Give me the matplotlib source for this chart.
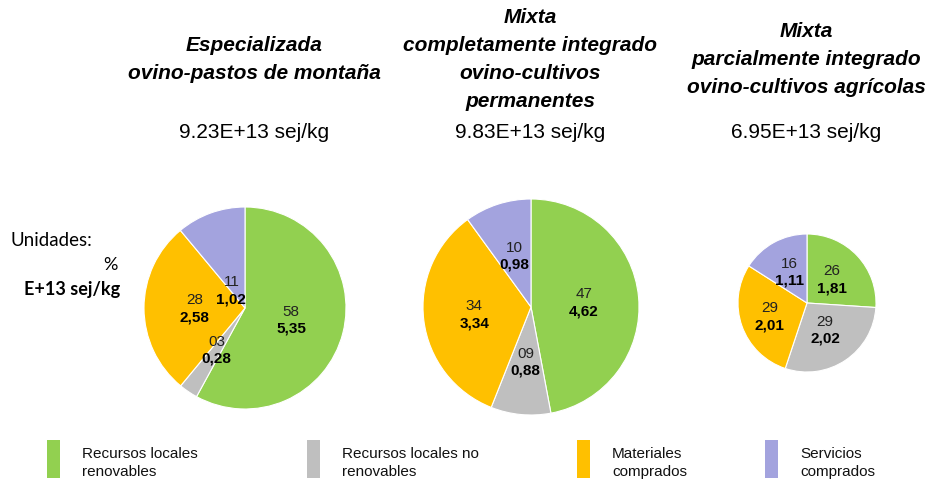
import matplotlib
matplotlib.use("Agg")
import matplotlib.pyplot as plt
import numpy as np
from matplotlib.patches import Rectangle

# ---------------- data ----------------
categories = ["Recursos locales\nrenovables", "Recursos locales no\nrenovables",
              "Materiales\ncomprados", "Servicios\ncomprados"]
titles = ["Especializada\novino-pastos de montaña",
          "Mixta\ncompletamente integrado\novino-cultivos\npermanentes",
          "Mixta\nparcialmente integrado\novino-cultivos agrícolas"]
totals = [9.23, 9.83, 6.95]
values_1 = [5.35, 0.28, 2.58, 1.02]
values_2 = [4.62, 0.88, 3.34, 0.98]
values_3 = [1.81, 2.02, 2.01, 1.11]
pcts_1 = ["58", "03", "28", "11"]
pcts_2 = ["47", "09", "34", "10"]
pcts_3 = ["26", "29", "29", "16"]

# ---------------- style ----------------
colors = ["#92D050", "#BFBFBF", "#FFC000", "#A3A3DE"]
W, H = 933, 486
fig = plt.figure(figsize=(W / 100, H / 100), dpi=100)
ax = fig.add_axes([0, 0, 1, 1])

centers = [(245, 308), (531, 307), (807, 303)]
radii = [101, 108, 69]
label_r = [[0.47, 0.5, 0.5, 0.22], [0.49, 0.51, 0.53, 0.5], [0.5, 0.47, 0.58, 0.52]]
label_da = [[0, 0, 0, 18], [0, 0, 0, 0], [0, 0, 0, 0]]
title_x = [254, 530, 806]
arial = "Liberation Sans"

for i, (vals, pcts) in enumerate(zip([values_1, values_2, values_3], [pcts_1, pcts_2, pcts_3])):
    cx, cy = centers[i]
    r = radii[i]
    wedges, _ = ax.pie(vals, colors=colors, startangle=90, counterclock=False,
                       center=(cx, H - cy), radius=r,
                       wedgeprops=dict(edgecolor="white", linewidth=0.8))
    for j, w in enumerate(wedges):
        ang = np.deg2rad((w.theta1 + w.theta2) / 2 + label_da[i][j])
        lx = cx + label_r[i][j] * r * np.cos(ang)
        ly = (H - cy) + label_r[i][j] * r * np.sin(ang)
        ax.text(lx, ly + 8, pcts[j], ha="center", va="center", fontsize=11,
                family=arial, color="#222222")
        ax.text(lx, ly - 9, f"{vals[j]:.2f}".replace(".", ","), ha="center", va="center",
                fontsize=11, family=arial, fontweight="bold", color="black")
    ax.text(title_x[i], H - 60, titles[i], ha="center", va="center", fontsize=15,
            family=arial, fontweight="bold", fontstyle="italic", linespacing=1.6)
    ax.text(title_x[i], H - 132, f"{totals[i]:.2f}E+13 sej/kg", ha="center", va="center",
            fontsize=15, family=arial)

ax.set_xlim(0, W)
ax.set_ylim(0, H)
ax.set_aspect("auto")
ax.axis("off")

# units note
ax.text(10, H - 240, "Unidades:", ha="left", va="center", fontsize=13.5, family="Lato")
ax.text(118, H - 265, "%", ha="right", va="center", fontsize=13, family="Lato")
ax.text(120, H - 289, "E+13 sej/kg", ha="right", va="center", fontsize=13,
        family="Lato", fontweight="bold")

# legend
leg_x = [47, 307, 577, 765]
for k, (lab, col) in enumerate(zip(categories, colors)):
    ax.add_patch(Rectangle((leg_x[k], H - 478), 13, 38, facecolor=col, edgecolor="none"))
    ax.text(leg_x[k] + 35, H - 463, lab, ha="left", va="center", fontsize=11,
            family=arial, linespacing=1.45, color="#111111")

fig.savefig("out.png", dpi=100)
